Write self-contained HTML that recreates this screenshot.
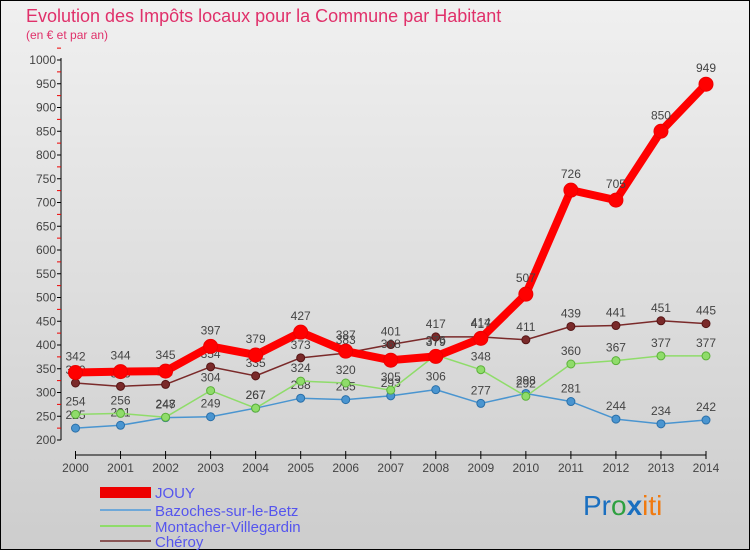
<!DOCTYPE html>
<html><head><meta charset="utf-8"><style>
body{margin:0;width:750px;height:550px;overflow:hidden;font-family:"Liberation Sans",sans-serif}
</style></head><body>
<svg width="750" height="550" xmlns="http://www.w3.org/2000/svg">
<defs><linearGradient id="bg" x1="0" y1="0" x2="0" y2="1"><stop offset="0" stop-color="#f0f0f0"/><stop offset="1" stop-color="#cdcdcd"/></linearGradient></defs>
<rect x="0.5" y="0.5" width="749" height="549" fill="url(#bg)" stroke="#000"/>
<text x="26" y="22" font-size="18" fill="#e0306a">Evolution des Impôts locaux pour la Commune par Habitant</text>
<text x="26" y="39" font-size="12" fill="#e0306a">(en € et par an)</text>
<g id="axes"></g>
<g id="series"></g>
<g>
<rect x="100" y="487" width="51" height="11" fill="#e00"/>
<text x="155" y="498" font-size="15" fill="#5555ee">JOUY</text>
<line x1="100" y1="510" x2="151" y2="510" stroke="#6fa8d8" stroke-width="2"/>
<text x="155" y="516" font-size="15" fill="#5555ee">Bazoches-sur-le-Betz</text>
<line x1="100" y1="526" x2="151" y2="526" stroke="#8fdc6a" stroke-width="2"/>
<text x="155" y="532" font-size="15" fill="#5555ee">Montacher-Villegardin</text>
<line x1="100" y1="541" x2="151" y2="541" stroke="#8a5555" stroke-width="2"/>
<text x="155" y="547" font-size="15" fill="#5555ee">Chéroy</text>
</g>
<g font-size="28">
<text x="583" y="515"><tspan fill="#1a6fc0">Pr</tspan><tspan fill="#2ea040">o</tspan><tspan fill="#1a6fc0" font-weight="bold">x</tspan><tspan fill="#f07a10">iti</tspan></text>
</g>
</svg>
<script>
const years=[2000,2001,2002,2003,2004,2005,2006,2007,2008,2009,2010,2011,2012,2013,2014];
const yTicks=[200,250,300,350,400,450,500,550,600,650,700,750,800,850,900,950,1000];
const jouy=[342,344,345,397,379,427,387,368,376,414,507,726,705,850,949];
const bazoches=[225,231,247,249,267,288,285,293,306,277,298,281,244,234,242];
const montacher=[254,256,248,304,267,324,320,305,379,348,292,360,367,377,377];
const cheroy=[320,313,317,354,335,373,383,401,417,417,411,439,441,451,445];
const NS="http://www.w3.org/2000/svg";
const X=i=>75.5+i*(706-75.5)/(years.length-1);
const Y=v=>440-(v-200)*(380/800);
function mk(t,a,p){const e=document.createElementNS(NS,t);for(const k in a)e.setAttribute(k,a[k]);p.appendChild(e);return e;}
const ax=document.getElementById('axes');
const yl=mk('line',{x1:61,y1:58,x2:61,y2:440,stroke:'#000'},ax);


yTicks.forEach(v=>{
 mk('line',{x1:57,x2:61,y1:Y(v),y2:Y(v),stroke:'#000'},ax);
 mk('line',{x1:57,x2:61,y1:Y(v+25),y2:Y(v+25),stroke:'#e00'},ax);
 const t=mk('text',{x:56,y:Y(v)+4,'font-size':12,'text-anchor':'end',fill:'#444'},ax);
 t.textContent=v;
 
 
});
const xl=mk('line',{x1:75,y1:455,x2:706,y2:455,stroke:'#000'},ax);


years.forEach((y,i)=>{
 mk('line',{x1:X(i),x2:X(i),y1:451,y2:459,stroke:'#000'},ax);
 const t=mk('text',{x:X(i),y:472,'font-size':12,'text-anchor':'middle',fill:'#444'},ax);
 t.textContent=y;
 
 
});
const sg=document.getElementById('series');
function draw(name,vals,color,w,r,dark){
 const g=mk('g',{},sg);
 
 
 const l=mk('polyline',{points:vals.map((v,i)=>X(i)+','+Y(v)).join(' '),fill:'none',stroke:color,'stroke-width':w,'stroke-linejoin':'round'},g);
 
 
 vals.forEach((v,i)=>{
  const c=mk('circle',{cx:X(i),cy:Y(v),r:r,fill:color,stroke:dark,'stroke-width':1},g);
  
  
  const t=mk('text',{x:X(i),y:Y(v)-r-5,'font-size':12,'text-anchor':'middle',fill:'#444'},g);
  t.textContent=v;
  
  
 });
}
draw('bazoches',bazoches,'#4a95d0',1.5,4,'#2a6fa8');
draw('montacher',montacher,'#8fdc6a',1.5,4,'#5bb03a');
draw('cheroy',cheroy,'#7a2a2a',1.5,4,'#551515');
draw('jouy',jouy,'#f00',8,7,'#e00');
</script>
</body></html>
